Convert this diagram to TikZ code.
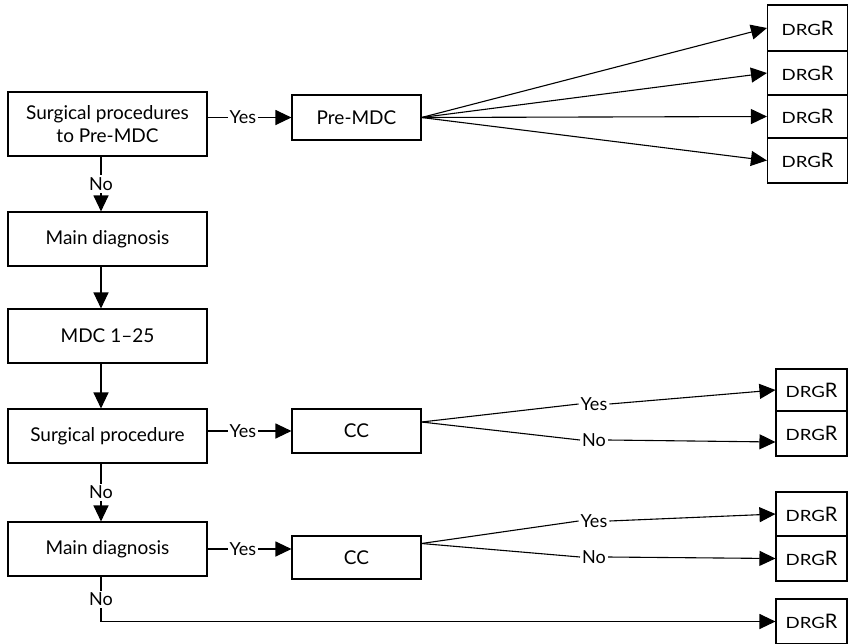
\documentclass[tikz,border=0pt]{standalone}
\usepackage{fontspec}
\setmainfont{Lato}
\usetikzlibrary{arrows.meta}

\tikzset{
  box/.style={draw, line width=1.1pt, minimum width=199pt, minimum height=54pt, inner sep=0pt, font=\fontsize{19}{23}\selectfont},
  ccbox/.style={box, minimum width=129pt, minimum height=44pt},
  drgbox/.style={draw, line width=1.1pt, minimum width=80pt, minimum height=44pt, inner sep=0pt},
  lbl/.style={inner sep=2pt, fill=white, font=\fontsize{18}{20}\selectfont},
  arr/.style={line width=1.1pt, -{Triangle[length=16pt,width=15pt]}},
  ln/.style={line width=1.1pt},
}
\newcommand{\drgr}{\scalebox{1.2}[1]{\fontsize{15.5}{15.5}\selectfont DRG}{\fontsize{20}{20}\selectfont R}}

\begin{document}
\begin{tikzpicture}[x=1pt, y=-1pt]
\useasboundingbox (0,0) rectangle (848,643);

% left column
\node[box, minimum height=64pt, align=center] (s1) at (107.5,124) {Surgical procedures\\to Pre-MDC};
\node[box] (m1) at (107.5,239) {Main diagnosis};
\node[box] (mdc) at (107.5,336) {MDC 1--25};
\node[box] (sp) at (107.5,436) {Surgical procedure};
\node[box] (m2) at (107.5,549) {Main diagnosis};

\node[ccbox, minimum height=45pt] (pre) at (356.5,117.5) {Pre-MDC};
\node[ccbox] (cc1) at (356.5,431) {CC};
\node[ccbox, minimum height=43pt] (cc2) at (356.5,557.5) {CC};

% DRG boxes
\node[drgbox, minimum height=46pt] (d11) at (807.5,28) {\drgr};
\node[drgbox] (d12) at (807.5,73) {\drgr};
\node[drgbox, minimum height=43pt] (d13) at (807.5,116.5) {\drgr};
\node[drgbox, minimum height=45pt] (d14) at (807.5,160.5) {\drgr};

\node[drgbox, minimum width=71pt, minimum height=42pt] (d21) at (811.5,390) {\drgr};
\node[drgbox, minimum width=71pt, minimum height=45pt] (d22) at (811.5,433.5) {\drgr};
\node[drgbox, minimum width=71pt, minimum height=44pt] (d31) at (811.5,514) {\drgr};
\node[drgbox, minimum width=71pt, minimum height=45pt] (d32) at (811.5,558.5) {\drgr};
\node[drgbox, minimum width=71pt, minimum height=45pt] (d4) at (811.5,621.5) {\drgr};

% down the left side
\draw[arr] ([xshift=-6.5pt]s1.south) -- node[lbl]{No} ([xshift=-6.5pt]m1.north);
\draw[arr] ([xshift=-6.5pt]m1.south) -- ([xshift=-6.5pt]mdc.north);
\draw[arr] ([xshift=-6.5pt]mdc.south) -- ([xshift=-6.5pt]sp.north);
\draw[arr] ([xshift=-6.5pt]sp.south) -- node[lbl]{No} ([xshift=-6.5pt]m2.north);
\draw[arr] ([xshift=-6.5pt]m2.south) |- node[lbl, pos=0.25]{No} (d4.west);

% yes branches
\draw[arr] (s1.east |- pre.west) -- node[lbl, pos=0.42]{Yes} (pre.west);
\draw[arr] (sp.east |- cc1.west) -- node[lbl, pos=0.42]{Yes} (cc1.west);
\draw[arr] (m2.east) -- node[lbl, pos=0.42]{Yes} (m2.east -| cc2.west);

% Pre-MDC fan
\foreach \d in {d11,d12,d13,d14}
  \draw[arr] (pre.east) -- (\d.west);

% CC fans
\coordinate (o1) at ([yshift=9pt]cc1.east);
\coordinate (o2) at ([yshift=14pt]cc2.east);
\node[lbl, fill=none] (y1) at (594,404) {Yes};
\node[lbl, fill=none] (n1) at (594,440) {No};
\node[lbl, fill=none] (y2) at (594,521) {Yes};
\node[lbl, fill=none] (n2) at (594,557) {No};

\draw[ln] (o1) -- (y1.west);
\draw[arr] (y1.east) -- (d21.west);
\draw[ln] (o1) -- (n1.west);
\draw[arr] (n1.east) -- ([yshift=-8.5pt]d22.west);
\draw[ln] (o2) -- (y2.west);
\draw[arr] (y2.east) -- (d31.west);
\draw[ln] (o2) -- (n2.west);
\draw[arr] (n2.east) -- (d32.west);
\end{tikzpicture}
\end{document}
